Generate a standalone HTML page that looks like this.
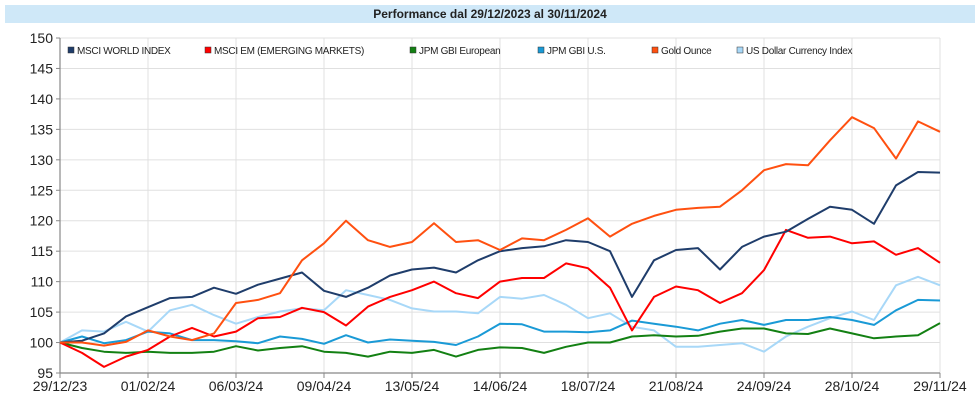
<!DOCTYPE html>
<html><head><meta charset="utf-8">
<style>
html,body{margin:0;padding:0;background:#fff;width:976px;height:419px;overflow:hidden;font-family:"Liberation Sans",Arial,sans-serif;}
#title{position:absolute;left:5px;top:5px;width:970px;height:18px;background:#cfe8f8;text-align:center;font-size:12px;font-weight:bold;line-height:18px;color:#222;}
svg{position:absolute;left:0;top:0;}
</style></head>
<body>
<div id="title">Performance dal 29/12/2023 al 30/11/2024</div>
<svg id="chart" width="976" height="419"></svg>
<script>
const xTickLabels=["29/12/23","01/02/24","06/03/24","09/04/24","13/05/24","14/06/24","18/07/24","21/08/24","24/09/24","28/10/24","29/11/24"];
const yTicks=[95,100,105,110,115,120,125,130,135,140,145,150];
const seriesNames=["MSCI WORLD INDEX","MSCI EM (EMERGING MARKETS)","JPM GBI European","JPM GBI U.S.","Gold Ounce","US Dollar Currency Index"];
const seriesColors=["#1f3d6b","#ff0000","#138013","#1a9ad6","#ff5010","#a8d8f8"];
const msciWorld=[100,100.3,101.5,104.3,105.8,107.3,107.5,109,108,109.5,110.5,111.5,108.5,107.5,109,111,112,112.3,111.5,113.5,115,115.5,115.8,116.8,116.5,115,107.5,113.5,115.2,115.5,112,115.7,117.4,118.2,120.3,122.3,121.8,119.5,125.8,128,127.9];
const msciEM=[100,98.3,96,97.7,98.8,101,102.4,101,101.8,104,104.2,105.7,105,102.8,105.9,107.5,108.6,110,108.1,107.3,110,110.6,110.6,113,112.2,109,102,107.5,109.2,108.6,106.5,108.1,111.9,118.5,117.2,117.4,116.3,116.6,114.4,115.5,113.1];
const gbiEuropean=[100,99.1,98.5,98.3,98.5,98.3,98.3,98.5,99.4,98.7,99.1,99.4,98.5,98.3,97.7,98.5,98.3,98.8,97.7,98.8,99.2,99.1,98.3,99.3,100,100,101,101.2,101,101.1,101.8,102.3,102.3,101.5,101.4,102.3,101.5,100.7,101,101.2,103.2];
const gbiUS=[100,101,99.9,100.4,101.8,101.5,100.4,100.4,100.2,99.9,101,100.6,99.8,101.2,100,100.5,100.3,100.1,99.6,101,103.1,103,101.8,101.8,101.7,102,103.6,103.1,102.6,102,103.1,103.7,102.9,103.7,103.7,104.2,103.7,102.9,105.3,107,106.9];
const goldOunce=[100,100,99.5,100.1,102,101,100.4,101.5,106.5,107,108.1,113.5,116.3,120,116.8,115.7,116.5,119.6,116.5,116.8,115.2,117.1,116.8,118.5,120.4,117.4,119.5,120.8,121.8,122.1,122.3,125,128.3,129.3,129.1,133.2,137,135.2,130.2,136.3,134.6];
const usDollar=[100,102,101.8,103.4,101.8,105.3,106.2,104.5,103.1,104.2,105.1,105.6,105.3,108.6,107.8,107,105.6,105.1,105.1,104.8,107.5,107.2,107.8,106.2,104,104.8,102.6,102,99.3,99.3,99.6,99.9,98.5,101,102.6,104,105.1,103.7,109.4,110.8,109.4];
const allSeries=[msciWorld,msciEM,gbiEuropean,gbiUS,goldOunce,usDollar];

const NS="http://www.w3.org/2000/svg";
const svg=document.getElementById('chart');
const X0=60,X1=940,Y0=373,Y1=38,VMIN=95,VMAX=150;
function xIdx(i,n){return X0+(X1-X0)*i/(n-1);}
function yVal(v){return Y0-(v-VMIN)/(VMAX-VMIN)*(Y0-Y1);}
function mk(tag,attrs){const e=document.createElementNS(NS,tag);for(const k in attrs)e.setAttribute(k,attrs[k]);svg.appendChild(e);return e;}

yTicks.forEach(v=>{
  const y=yVal(v);
  if(v>VMIN){const g=mk('line',{x1:X0,x2:X1,y1:y,y2:y,stroke:'#e0e0e0','stroke-width':1});
  
  }
  const t=mk('line',{x1:X0-4,x2:X0,y1:y,y2:y,stroke:'#888'});
  
  
  const l=mk('text',{x:X0-7,y:y+5,'text-anchor':'end','font-size':14,fill:'#222'});
  l.textContent=v;
  
  
});
xTickLabels.forEach((lab,i)=>{
  const x=xIdx(i,xTickLabels.length);
  if(i>0){const g=mk('line',{x1:x,x2:x,y1:Y1,y2:Y0,stroke:'#e0e0e0','stroke-width':1});
  
  }
  const t=mk('line',{x1:x,x2:x,y1:Y0,y2:Y0+5,stroke:'#888'});
  
  
  const l=mk('text',{x:x,y:Y0+18,'text-anchor':'middle','font-size':14,fill:'#222'});
  l.textContent=lab;
  
  
});
const ax=mk('path',{d:`M${X0} ${Y1}V${Y0}H${X1}`,stroke:'#888',fill:'none','stroke-width':1.2});



const order=[5,2,3,1,0,4];
order.forEach(s=>{
  const data=allSeries[s];
  const d=data.map((v,i)=>(i?'L':'M')+xIdx(i,data.length).toFixed(1)+' '+yVal(v).toFixed(1)).join('');
  const p=mk('path',{d:d,stroke:seriesColors[s],fill:'none','stroke-width':2,'stroke-linejoin':'round'});
  
  
});

const legX=[68,205,410,538,652,737];
seriesNames.forEach((n,i)=>{
  const r=mk('rect',{x:legX[i],y:47,width:6,height:6,fill:seriesColors[i],stroke:'#333','stroke-width':0.5});
  
  
  const t=mk('text',{x:legX[i]+9,y:54,'font-size':10,fill:'#222','letter-spacing':'-0.3'});
  t.textContent=n;
  
  
});
</script>
</body></html>
